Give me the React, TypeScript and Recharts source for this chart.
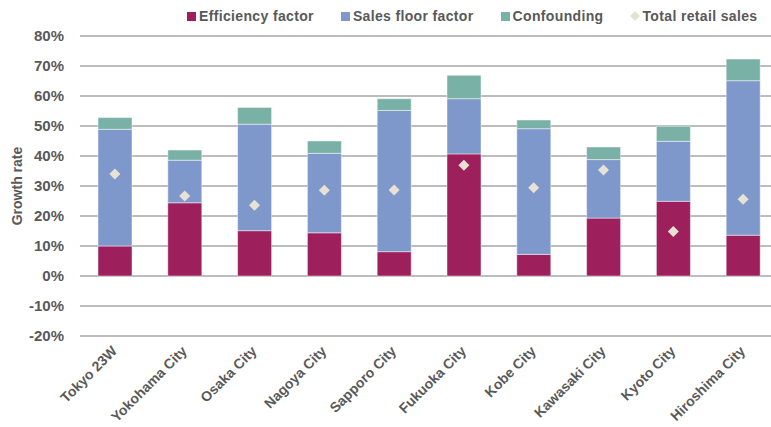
import React from 'react';
import {
  Bar,
  CartesianGrid,
  ComposedChart,
  Legend,
  Scatter,
  XAxis,
  YAxis,
} from 'recharts';

const cities = [
  'Tokyo 23W',
  'Yokohama City',
  'Osaka City',
  'Nagoya City',
  'Sapporo City',
  'Fukuoka City',
  'Kobe City',
  'Kawasaki City',
  'Kyoto City',
  'Hiroshima City',
];

// growth rate contributions, in percent
const efficiency = [10.0, 24.4, 15.1, 14.4, 8.1, 40.7, 7.2, 19.3, 24.9, 13.6];
const salesFloor = [38.9, 14.2, 35.5, 26.5, 47.1, 18.4, 41.9, 19.5, 20.0, 51.5];
const confounding = [3.9, 3.4, 5.6, 4.1, 3.9, 7.8, 2.9, 4.2, 5.0, 7.2];
const totalSales = [34.0, 26.7, 23.6, 28.6, 28.7, 36.9, 29.4, 35.3, 14.8, 25.6];

const yTicks = [-20, -10, 0, 10, 20, 30, 40, 50, 60, 70, 80];

const COLORS = {
  efficiency: '#9d1f5c',
  salesFloor: '#7f98cb',
  confounding: '#7ab1a7',
  total: '#e8e2d5',
  text: '#595959',
  grid: '#7a7a7a',
};

const FONT = '"Liberation Sans", Arial, Helvetica, sans-serif';

const rows = cities.map((city, i) => ({
  city,
  efficiency: efficiency[i],
  salesFloor: salesFloor[i],
  confounding: confounding[i],
  total: totalSales[i],
}));

const legendItems = [
  { label: 'Efficiency factor', color: COLORS.efficiency, kind: 'square' },
  { label: 'Sales floor factor', color: COLORS.salesFloor, kind: 'square' },
  { label: 'Confounding', color: COLORS.confounding, kind: 'square' },
  { label: 'Total retail sales', color: COLORS.total, kind: 'diamond' },
];

function LegendRow() {
  return (
    <div style={{ display: 'flex', alignItems: 'center', gap: 27, fontFamily: FONT }}>
      {legendItems.map((it) => (
        <div key={it.label} style={{ display: 'flex', alignItems: 'center' }}>
          {it.kind === 'square' ? (
            <span style={{ width: 9, height: 9, background: it.color, display: 'inline-block' }} />
          ) : (
            <svg width={10} height={10}>
              <polygon points="5,0 10,5 5,10 0,5" fill={it.color} />
            </svg>
          )}
          <span
            style={{
              marginLeft: it.kind === 'square' ? 3 : 2,
              fontSize: 14,
              fontWeight: 700,
              letterSpacing: 0.35,
              color: COLORS.text,
              lineHeight: '18px',
            }}
          >
            {it.label}
          </span>
        </div>
      ))}
    </div>
  );
}

// rotated category labels, right end tucked under each bar
function CityTick({ x, y, payload }: any) {
  return (
    <g transform={`translate(${x + 3},${y + 8}) rotate(-45)`}>
      <text
        x={0}
        y={0}
        textAnchor="end"
        fontSize={14}
        fontWeight={700}
        fontFamily={FONT}
        fill={COLORS.text}
      >
        {payload.value}
      </text>
    </g>
  );
}

function Diamond({ cx, cy }: any) {
  if (cx == null || cy == null) return null;
  const r = 5.5;
  return (
    <polygon
      points={`${cx},${cy - r} ${cx + r},${cy} ${cx},${cy + r} ${cx - r},${cy}`}
      fill={COLORS.total}
    />
  );
}

function GrowthLabel({ viewBox }: any) {
  const cy = viewBox.y + viewBox.height / 2;
  const cx = 17;
  return (
    <text
      x={cx}
      y={cy}
      transform={`rotate(-90, ${cx}, ${cy})`}
      textAnchor="middle"
      dominantBaseline="central"
      fontSize={14}
      fontWeight={700}
      fontFamily={FONT}
      fill={COLORS.text}
    >
      Growth rate
    </text>
  );
}

export default function App() {
  const segStroke = 'rgba(255,255,255,0.45)';
  return (
    <div
      style={{
        position: 'absolute',
        left: 0,
        top: 0,
        width: 771,
        height: 427,
        overflow: 'hidden',
        background: '#fff',
      }}
    >
      <ComposedChart
        width={778}
        height={427}
        data={rows}
        margin={{ top: 18, right: 0, bottom: 0, left: 0 }}
      >
        <CartesianGrid vertical={false} stroke={COLORS.grid} strokeWidth={1} />
        <XAxis
          dataKey="city"
          height={91}
          interval={0}
          tickLine={false}
          axisLine={false}
          tick={<CityTick />}
        />
        <YAxis
          width={80}
          domain={[-20, 80]}
          ticks={yTicks}
          tickFormatter={(v: number) => `${v}%`}
          tickLine={false}
          axisLine={false}
          tickSize={6}
          tickMargin={10}
          tick={{ fontSize: 15, fontWeight: 700, fill: COLORS.text, fontFamily: FONT }}
          label={<GrowthLabel />}
        />
        <Legend
          verticalAlign="top"
          content={<LegendRow />}
          wrapperStyle={{ top: 7, left: 187, width: 'auto' }}
        />
        <Bar
          dataKey="efficiency"
          stackId="g"
          barSize={34}
          fill={COLORS.efficiency}
          stroke={segStroke}
          isAnimationActive={false}
        />
        <Bar
          dataKey="salesFloor"
          stackId="g"
          barSize={34}
          fill={COLORS.salesFloor}
          stroke={segStroke}
          isAnimationActive={false}
        />
        <Bar
          dataKey="confounding"
          stackId="g"
          barSize={34}
          fill={COLORS.confounding}
          stroke={segStroke}
          isAnimationActive={false}
        />
        <Scatter dataKey="total" shape={<Diamond />} isAnimationActive={false} />
      </ComposedChart>
    </div>
  );
}
